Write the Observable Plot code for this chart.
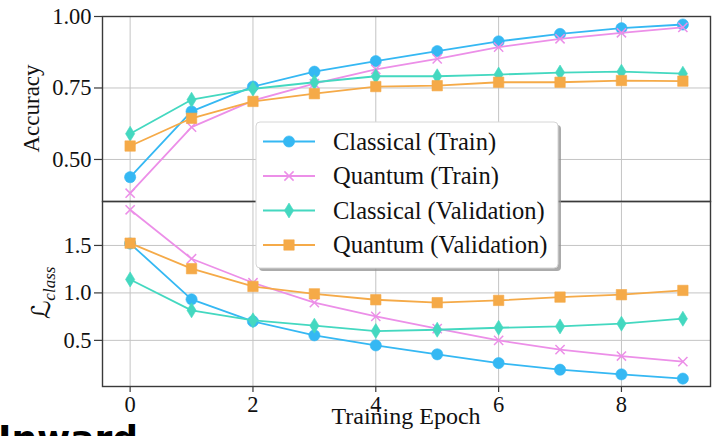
<!DOCTYPE html>
<html>
<head>
<meta charset="utf-8">
<script src="https://cdn.jsdelivr.net/npm/d3@7"></script>
<script src="https://cdn.jsdelivr.net/npm/@observablehq/plot@0.6"></script>
<style>
  html, body { margin: 0; padding: 0; background: #fff; }
  #chart { position: relative; width: 723px; height: 436px; overflow: hidden; background: #fff; }
  #chart > svg, #chart > div { position: absolute; left: 0; }
  #chart text { font-family: "Liberation Serif", "Times New Roman", serif; }
</style>
</head>
<body>
<div id="chart"></div>
<script>
// ---- data ----
const epochs = [0, 1, 2, 3, 4, 5, 6, 7, 8, 9];
const seriesNames = ["Classical (Train)", "Quantum (Train)", "Classical (Validation)", "Quantum (Validation)"];
const seriesColors = ["#35b8f3", "#ec8fe8", "#44d8c0", "#f5aa48"];

const accClassicalTrain = [0.438, 0.668, 0.755, 0.807, 0.844, 0.879, 0.913, 0.939, 0.959, 0.972];
const accQuantumTrain   = [0.382, 0.613, 0.706, 0.765, 0.815, 0.852, 0.893, 0.922, 0.943, 0.962];
const accClassicalVal   = [0.590, 0.709, 0.747, 0.770, 0.791, 0.791, 0.797, 0.804, 0.807, 0.800];
const accQuantumVal     = [0.547, 0.644, 0.703, 0.730, 0.755, 0.758, 0.770, 0.770, 0.776, 0.774];

const lossClassicalTrain = [1.520, 0.932, 0.700, 0.553, 0.447, 0.353, 0.261, 0.191, 0.142, 0.097];
const lossQuantumTrain   = [1.876, 1.360, 1.107, 0.897, 0.753, 0.623, 0.500, 0.402, 0.335, 0.276];
const lossClassicalVal   = [1.142, 0.816, 0.711, 0.655, 0.598, 0.612, 0.633, 0.647, 0.676, 0.728];
const lossQuantumVal     = [1.524, 1.255, 1.068, 0.990, 0.928, 0.897, 0.921, 0.956, 0.981, 1.026];

const xTicks = [0, 2, 4, 6, 8];
const accTicks = [0.5, 0.75, 1.0];
const lossTicks = [0.5, 1.0, 1.5];
const accLabel = "Accuracy";
const lossLabelMain = "\u2112";
const lossLabelSub = "class";
const xLabel = "Training Epoch";
const footerText = "Inward";

// ---- helpers ----
function tidy(arrays) {
  return arrays.flatMap((vals, i) => vals.map((v, j) => ({ epoch: epochs[j], value: v, series: seriesNames[i] })));
}
const accData = tidy([accClassicalTrain, accQuantumTrain, accClassicalVal, accQuantumVal]);
const lossData = tidy([lossClassicalTrain, lossQuantumTrain, lossClassicalVal, lossQuantumVal]);

const symCircle = { draw(c) { c.moveTo(5.6, 0); c.arc(0, 0, 5.6, 0, 2 * Math.PI); c.closePath(); } };
const symX = { draw(c) { c.moveTo(-4.6, -4.6); c.lineTo(4.6, 4.6); c.moveTo(4.6, -4.6); c.lineTo(-4.6, 4.6); } };
const symThinDiamond = { draw(c) { c.moveTo(0, -7.5); c.lineTo(4.6, 0); c.lineTo(0, 7.5); c.lineTo(-4.6, 0); c.closePath(); } };
const symSquare = { draw(c) { c.moveTo(-5.2, -5.2); c.lineTo(5.2, -5.2); c.lineTo(5.2, 5.2); c.lineTo(-5.2, 5.2); c.closePath(); } };
const markerSyms = [symCircle, symX, symThinDiamond, symSquare];
const markerFilled = [true, false, true, true];

function seriesMarks(data) {
  return seriesNames.flatMap((name, i) => {
    const d = data.filter(r => r.series === name);
    return [
      Plot.line(d, { x: "epoch", y: "value", stroke: seriesColors[i], strokeWidth: 1.8 }),
      Plot.dot(d, {
        x: "epoch", y: "value", symbol: markerSyms[i],
        fill: markerFilled[i] ? seriesColors[i] : "none",
        stroke: seriesColors[i], strokeWidth: markerFilled[i] ? 0.6 : 1.5
      })
    ];
  });
}

const W = 723, ML = 102, MR = 13;
const font = "Liberation Serif";
const gridColor = "#c4c4c4";
const frameColor = "#3a3a3a";
const baseStyle = { fontFamily: "'Liberation Serif', serif", fontSize: "22px", overflow: "visible", background: "transparent", color: "#111" };

// ---- top panel (accuracy) ----
const topPlot = Plot.plot({
  width: W, height: 201, marginLeft: ML, marginRight: MR, marginTop: 16, marginBottom: 0,
  style: baseStyle,
  x: { domain: [-0.45, 9.45], axis: null },
  y: { domain: [0.353, 1.0], axis: null },
  marks: [
    Plot.gridX(xTicks, { stroke: gridColor, strokeOpacity: 1, strokeWidth: 1 }),
    Plot.gridY(accTicks, { stroke: gridColor, strokeOpacity: 1, strokeWidth: 1 }),
    ...seriesMarks(accData),
    Plot.frame({ stroke: frameColor, strokeWidth: 1.4 }),
    Plot.axisY(accTicks, { tickFormat: d3.format(".2f"), tickSize: 8, tickPadding: 3, label: null, stroke: frameColor, strokeWidth: 1.2, fontFamily: font, fontSize: 22.5, fontVariant: "normal" })
  ]
});
topPlot.style.top = "0px";

// ---- bottom panel (loss) ----
const bottomPlot = Plot.plot({
  width: W, height: 235, marginLeft: ML, marginRight: MR, marginTop: 0, marginBottom: 50,
  style: baseStyle,
  x: { domain: [-0.45, 9.45], axis: null },
  y: { domain: [0.014, 1.963], axis: null },
  marks: [
    Plot.gridX(xTicks, { stroke: gridColor, strokeOpacity: 1, strokeWidth: 1 }),
    Plot.gridY(lossTicks, { stroke: gridColor, strokeOpacity: 1, strokeWidth: 1 }),
    ...seriesMarks(lossData),
    Plot.frame({ stroke: frameColor, strokeWidth: 1.4 }),
    Plot.axisY(lossTicks, { tickFormat: d3.format(".1f"), tickSize: 8, tickPadding: 3, label: null, stroke: frameColor, strokeWidth: 1.2, fontFamily: font, fontSize: 22.5, fontVariant: "normal" }),
    Plot.axisX(xTicks, { tickFormat: d3.format("d"), tickSize: 6, tickPadding: 4, label: null, stroke: frameColor, strokeWidth: 1.2, fontFamily: font, fontSize: 22.5, fontVariant: "normal" })
  ]
});
bottomPlot.style.top = "201px";

const chart = document.getElementById("chart");
chart.appendChild(topPlot);
chart.appendChild(bottomPlot);

// axis labels
d3.select(topPlot).append("text")
  .attr("transform", "translate(39,108.5) rotate(-90)")
  .attr("text-anchor", "middle")
  .attr("fill", "#111")
  .attr("font-family", font).attr("font-size", 23)
  .text(accLabel);

const ll = d3.select(bottomPlot).append("text")
  .attr("transform", "translate(50,92) rotate(-90)")
  .attr("text-anchor", "middle")
  .attr("fill", "#111")
  .attr("font-family", font);
ll.append("tspan").style("font-family", "'DejaVu Serif', 'DejaVu Sans', serif").style("font-size", "26px").style("font-style", "italic").text(lossLabelMain);
ll.append("tspan").attr("dy", 5).style("font-family", "'Liberation Serif', serif").style("font-size", "17px").style("font-style", "italic").text(lossLabelSub);

d3.select(bottomPlot).append("text")
  .attr("x", (ML + (W - MR)) / 2).attr("y", 223)
  .attr("text-anchor", "middle")
  .attr("fill", "#111")
  .attr("font-family", font).attr("font-size", 24)
  .text(xLabel);

// ---- overlay: legend + clipped footer text ----
const ov = d3.select(chart).append("svg")
  .attr("width", W).attr("height", 436)
  .style("position", "absolute").style("top", "0px").style("left", "0px")
  .style("pointer-events", "none");

const lg = { x: 256, y: 122, w: 302, h: 146 };
ov.append("rect").attr("x", lg.x + 3).attr("y", lg.y + 3).attr("width", lg.w).attr("height", lg.h)
  .attr("rx", 4).attr("fill", "#8f8f8f").attr("opacity", 0.75);
ov.append("rect").attr("x", lg.x).attr("y", lg.y).attr("width", lg.w).attr("height", lg.h)
  .attr("rx", 4).attr("fill", "#fff").attr("stroke", "#d6d6d6").attr("stroke-width", 1);

seriesNames.forEach((name, i) => {
  const cy = 141.5 + i * 34.5;
  const g = ov.append("g");
  g.append("line").attr("x1", 263).attr("x2", 315).attr("y1", cy).attr("y2", cy)
    .attr("stroke", seriesColors[i]).attr("stroke-width", 1.8);
  const p = d3.path();
  markerSyms[i].draw(p);
  g.append("path").attr("d", p.toString()).attr("transform", `translate(289,${cy})`)
    .attr("fill", markerFilled[i] ? seriesColors[i] : "none")
    .attr("stroke", seriesColors[i]).attr("stroke-width", markerFilled[i] ? 0.6 : 1.5);
  g.append("text").attr("x", 333).attr("y", cy + 8)
    .attr("fill", "#111")
    .attr("font-family", font).attr("font-size", 24.5)
    .text(name);
});

ov.append("text").attr("x", -2).attr("y", 451)
  .attr("fill", "#000")
  .style("font-family", "'DejaVu Sans', sans-serif").style("font-weight", "bold").style("font-size", "36px")
  .text(footerText);
</script>
</body>
</html>
